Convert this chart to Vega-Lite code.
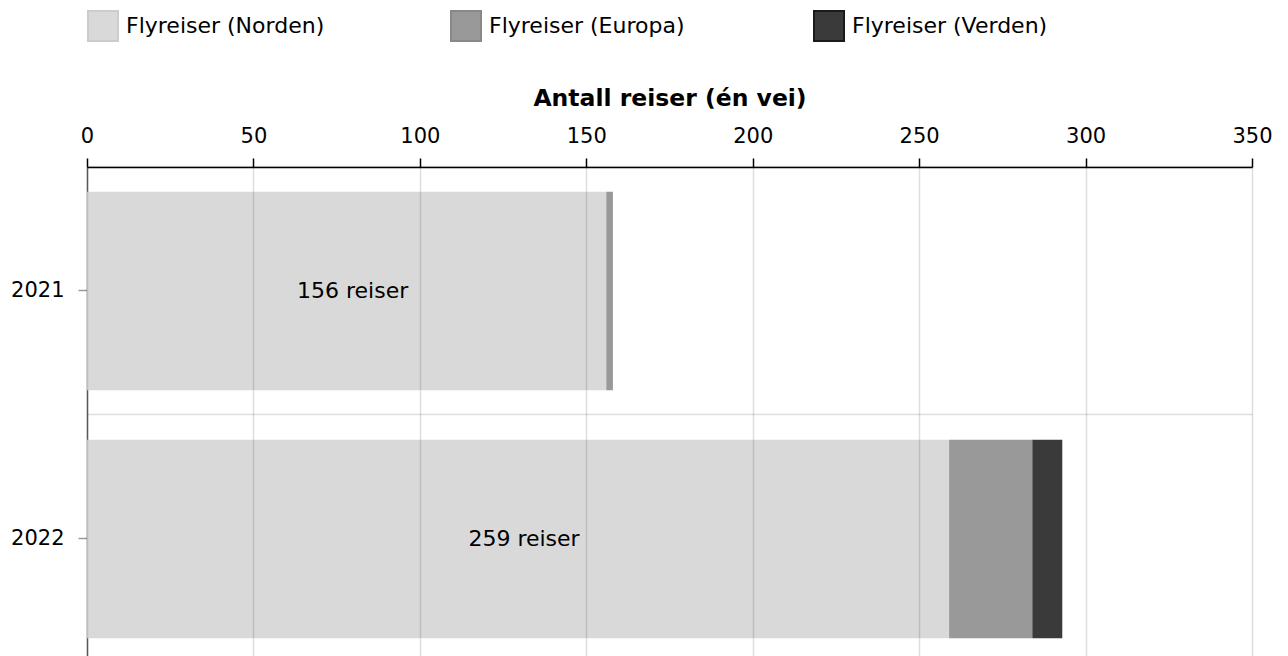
{
  "$schema": "https://vega.github.io/schema/vega-lite/v6.json",
  "width": 1165,
  "height": 496,
  "padding": {"left": 10, "top": 10, "right": 5, "bottom": 0},
  "background": "white",
  "config": {
    "font": "DejaVu Sans",
    "view": {"stroke": null}
  },
  "data": {
    "values": [
      {"year": "2021", "type": "Flyreiser (Norden)", "n": 156, "label": "156 reiser"},
      {"year": "2021", "type": "Flyreiser (Europa)", "n": 2},
      {"year": "2022", "type": "Flyreiser (Norden)", "n": 259, "label": "259 reiser"},
      {"year": "2022", "type": "Flyreiser (Europa)", "n": 25},
      {"year": "2022", "type": "Flyreiser (Verden)", "n": 9}
    ]
  },
  "layer": [
    {
      "mark": {"type": "bar", "strokeWidth": 0},
      "encoding": {
        "y": {
          "field": "year", "type": "nominal", "title": null,
          "scale": {"paddingInner": 0.2, "paddingOuter": 0.1},
          "axis": {"orient": "left", "grid": false, "labelFontSize": 21, "labelColor": "#000", "labelPadding": 14, "tickSize": 9, "tickColor": "#999", "tickWidth": 1.5, "domainColor": "#666", "domainWidth": 1.5, "labelAngle": 0}
        },
        "x": {
          "field": "n", "type": "quantitative", "stack": "zero", "title": "Antall reiser (én vei)",
          "scale": {"domain": [0, 350], "nice": false},
          "axis": {"orient": "top", "values": [0, 50, 100, 150, 200, 250, 300, 350], "labelFlush": false, "grid": true, "gridColor": "#000", "gridOpacity": 0.13, "gridWidth": 1.5, "zindex": 1, "domainColor": "#000", "domainWidth": 1.5, "tickColor": "#000", "tickWidth": 1.5, "tickSize": 9, "labelFontSize": 21, "labelPadding": 12, "labelColor": "#000", "titleFontSize": 23.5, "titleFontWeight": "bold", "titleColor": "#000", "titlePadding": 15}
        },
        "order": {"field": "n", "sort": "descending"},
        "color": {
          "field": "type", "type": "nominal",
          "sort": ["Flyreiser (Norden)", "Flyreiser (Europa)", "Flyreiser (Verden)"],
          "scale": {"domain": ["Flyreiser (Norden)", "Flyreiser (Europa)", "Flyreiser (Verden)"], "range": ["#d9d9d9", "#999999", "#3a3a3a"]},
          "legend": {"orient": "top", "title": null, "direction": "horizontal", "columns": 3, "gridAlign": "all", "columnPadding": 122, "symbolType": "square", "symbolSize": 900, "symbolStrokeWidth": 2, "labelFontSize": 22, "labelOffset": 7, "labelLimit": 0, "labelColor": "#000", "padding": 0, "offset": 41, "symbolOpacity": 1}
        },
        "stroke": {
          "field": "type", "type": "nominal",
          "sort": ["Flyreiser (Norden)", "Flyreiser (Europa)", "Flyreiser (Verden)"],
          "scale": {"domain": ["Flyreiser (Norden)", "Flyreiser (Europa)", "Flyreiser (Verden)"], "range": ["#cccccc", "#888888", "#1a1a1a"]},
          "legend": {"orient": "top", "title": null, "direction": "horizontal", "columns": 3, "gridAlign": "all", "columnPadding": 122, "symbolType": "square", "symbolSize": 900, "symbolStrokeWidth": 2, "labelFontSize": 22, "labelOffset": 7, "labelLimit": 0, "labelColor": "#000", "padding": 0, "offset": 41, "symbolOpacity": 1}
        }
      }
    },
    {
      "transform": [{"filter": "datum.type === 'Flyreiser (Norden)'"}],
      "mark": {"type": "text", "fontSize": 22, "color": "#000", "dx": 6, "baseline": "middle", "align": "center"},
      "encoding": {
        "y": {
          "field": "year", "type": "nominal", "title": null,
          "axis": {"orient": "left", "bandPosition": -0.125, "grid": true, "labels": false, "ticks": false, "domain": false, "minExtent": 0, "maxExtent": 0, "gridColor": "#000", "gridOpacity": 0.13, "gridWidth": 1.5}
        },
        "x": {"field": "n", "type": "quantitative", "scale": {"domain": [0, 700], "nice": false}, "axis": null},
        "text": {"field": "label"}
      }
    }
  ],
  "resolve": {"axis": {"y": "independent", "x": "independent"}, "scale": {"x": "independent"}}
}
